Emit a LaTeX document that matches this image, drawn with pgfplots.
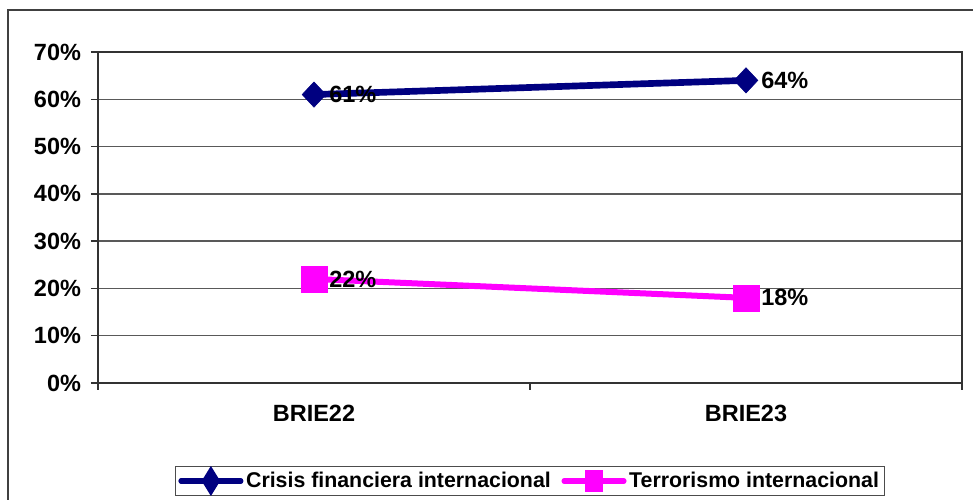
\documentclass[border=0pt]{standalone}
\usepackage{pgfplots}
\pgfplotsset{compat=1.18}
\usepackage{fontspec}
\setmainfont{Liberation Sans}
\definecolor{navyc}{RGB}{0,0,128}
\definecolor{magc}{RGB}{255,0,255}
\begin{document}
\begin{tikzpicture}[x=1pt,y=1pt]
\useasboundingbox (0,0) rectangle (729.75,374.25);
\draw[line width=1.2pt, black!75] (6,-20) rectangle (760,366.75);
\begin{axis}[
  at={(73.5pt,87pt)}, anchor=south west,
  width=648pt, height=248.25pt, scale only axis,
  xmin=0, xmax=2, ymin=0, ymax=70,
  xtick={0,1,2}, xticklabels={,,},
  extra x ticks={0.5,1.5}, extra x tick labels={BRIE22,BRIE23},
  extra x tick style={major tick length=0pt, tick label style={yshift=-13pt}},
  xtick pos=bottom, ytick pos=left,
  ytick={0,10,...,70},
  yticklabel={\pgfmathprintnumber{\tick}\%},
  /pgf/number format/assume math mode=true,
  tick align=outside, major tick length=5.25pt,
  ymajorgrids,
  grid style={black!65, line width=1pt},
  axis line style={black!80, line width=1.2pt},
  tick style={black!80, line width=1pt},
  tick label style={font=\fontsize{17.6}{20}\selectfont\bfseries},
  yticklabel style={xshift=-4pt},
  legend style={at={(0.5,-0.296)}, anchor=center, legend columns=2, draw=black!70, line width=0.8pt,
    font=\fontsize{16}{19}\selectfont\bfseries, inner sep=2pt,
    /tikz/every even column/.append style={column sep=6pt}},
  clip=false,
]
\addplot[navyc, line width=5pt, mark=diamond*, mark size=9.5pt,
  mark options={xscale=1.25, line width=0.4pt, solid},
  point meta=y,
  nodes near coords={\pgfmathprintnumber{\pgfplotspointmeta}\%},
  every node near coord/.append style={anchor=west, xshift=8pt, text=black, font=\fontsize{17.6}{20}\selectfont\bfseries},
  legend image code/.code={\draw[navyc, line width=3.8pt, line cap=round] (0pt,0pt)--(45pt,0pt);
    \fill[navyc] (22.5pt,6.5pt)--(26.5pt,0pt)--(22.5pt,-6.5pt)--(18.5pt,0pt)--cycle;}
] coordinates {(0.5,61) (1.5,64)};
\addlegendentry{Crisis financiera internacional}
\addplot[magc, line width=4.5pt, mark=square*, mark size=9.8pt,
  mark options={line width=0.4pt, solid},
  point meta=y,
  nodes near coords={\pgfmathprintnumber{\pgfplotspointmeta}\%},
  every node near coord/.append style={anchor=west, xshift=8pt, text=black, font=\fontsize{17.6}{20}\selectfont\bfseries},
  legend image code/.code={\draw[magc, line width=3.8pt, line cap=round] (0pt,0pt)--(45pt,0pt);
    \fill[magc] (18pt,-6pt) rectangle (27pt,6pt);}
] coordinates {(0.5,22) (1.5,18)};
\addlegendentry{Terrorismo internacional}
\end{axis}
\end{tikzpicture}
\end{document}
